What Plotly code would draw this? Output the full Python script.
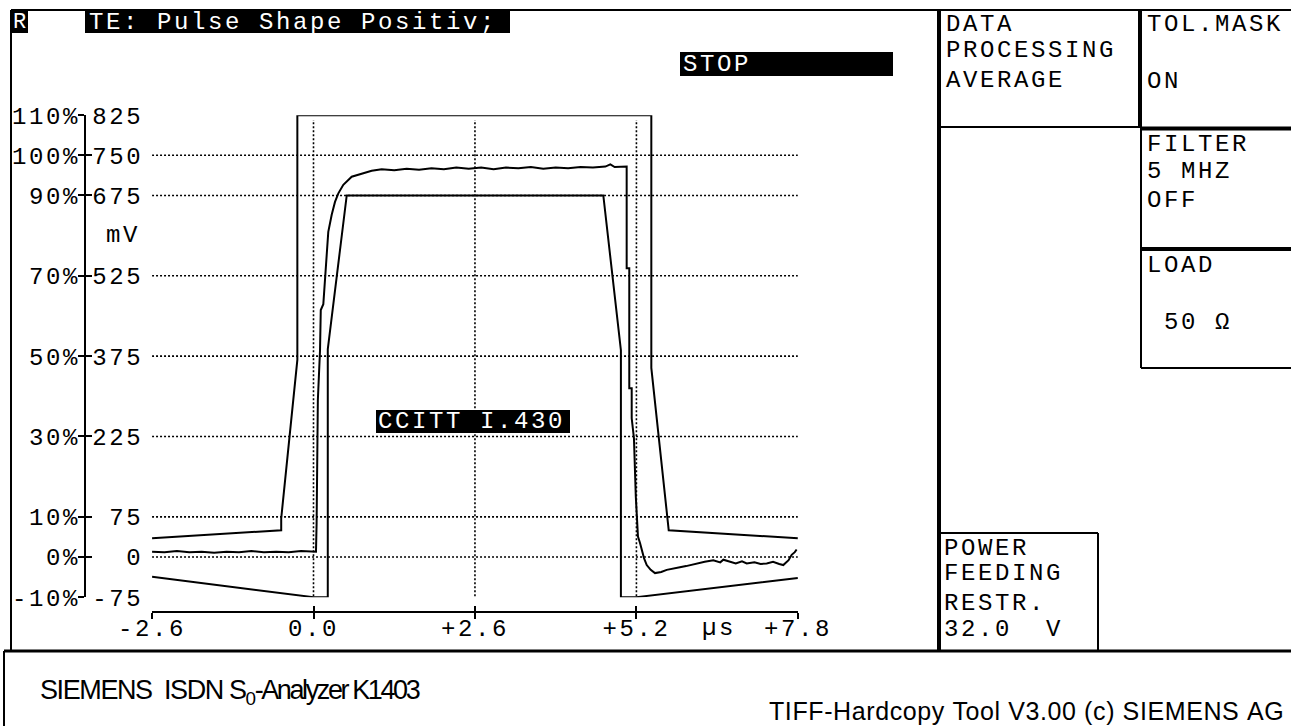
import plotly.graph_objects as go

W, H = 1291, 726
MONO = "Liberation Mono, DejaVu Sans Mono, monospace"
SANS = "Liberation Sans Narrow, Liberation Sans, Arial, sans-serif"
NB = "\u00a0"
MONO_SIZE = 24
MONO_LS = 2.6   # extra letter spacing to imitate the wide instrument font

# ---------------- data ----------------
x_tickvals = [-2.6, 0.0, 2.6, 5.2, 7.8]
x_ticktext = ["-2.6", "0.0", "+2.6", "+5.2", "+7.8"]

y_tickvals = [825, 750, 675, 525, 375, 225, 75, 0, -75]
y_mv_text = ["825", "750", "675", "525", "375", "225", NB + "75", NB + NB + "0", "-75"]
y_pct_text = ["110%", "100%", "90%", "70%", "50%", "30%", "10%", "0%", "-10%"]

grid_y = [750, 675, 525, 375, 225, 75, 0]
grid_x = [0.0, 2.6, 5.2]

# tolerance mask (CCITT I.430), µs / mV
upper_t = [-2.6, -0.52, -0.52, -0.26, -0.26, 5.44, 5.44, 5.72, 7.8]
upper_mv = [35, 50, 72, 368, 825, 825, 353, 50, 35]

lower_t = [-2.6, 0.0, 0.23, 0.23, 0.535, 4.667, 4.95, 4.95, 5.2, 7.8]
lower_mv = [-37, -75, -75, 388, 675, 675, 386, -75, -75, -39]

# measured (averaged) pulse
meas_t = [-2.6, -2.4, -2.2, -2.0, -1.8, -1.6, -1.4, -1.2, -1.0, -0.8, -0.6, -0.4, -0.2, 0.0, 0.04,
          0.05, 0.07, 0.105, 0.117, 0.158, 0.185, 0.213, 0.238, 0.293, 0.346, 0.40, 0.48, 0.615, 0.776, 0.937, 1.098,
          1.3, 1.5, 1.7, 1.9, 2.1, 2.3, 2.5, 2.7, 2.9, 3.1, 3.3, 3.5, 3.7, 3.9, 4.1, 4.3, 4.5, 4.7, 4.78, 4.85, 5.043,
          5.043, 5.085, 5.085, 5.124, 5.124, 5.16, 5.19, 5.225, 5.258, 5.285, 5.322, 5.366, 5.43, 5.499,
          5.6, 5.688, 5.8, 5.9, 6.0, 6.17, 6.3, 6.438, 6.55, 6.6, 6.707, 6.8, 6.9, 6.976, 7.1, 7.2, 7.298,
          7.4, 7.5, 7.565, 7.65, 7.7, 7.75, 7.78]
meas_mv = [10, 9, 11, 9, 10, 8, 10, 9, 11, 9, 10, 9, 11, 10, 10,
           63, 293, 386, 461, 472, 523, 564, 607, 639, 663, 679, 695, 710, 716, 721, 724,
           722, 725, 723, 726, 724, 727, 725, 727, 724, 727, 726, 728, 725, 727, 726, 728, 727, 729, 733, 728, 729,
           539, 539, 315, 315, 259, 222, 113, 38, 26, 13, -2, -15, -24, -30,
           -28, -24, -22, -19, -17, -12, -9, -6, -10, -5, -9, -12, -8, -12, -10, -13, -12,
           -9, -13, -15, -6, 4, 9, 14]


def wide(s, ls=MONO_LS):
    return '<span style="letter-spacing:%spx">%s</span>' % (ls, s)


# ---------------- geometry helpers (pixels -> paper) ----------------
def PX(x):
    return x / W


def PY(y):
    return 1 - y / H


X0PIX, XSCALE = 313.5, 62.1       # px of 0 µs, px per µs
Y0PIX, YSCALE = 557.0, 0.5356     # px of 0 mV, px per mV
x_dom = [PX(X0PIX - 2.6 * XSCALE), PX(X0PIX + 7.8 * XSCALE)]
y_dom = [PY(Y0PIX + 75 * YSCALE), PY(Y0PIX - 825 * YSCALE)]
XAXIS_Y = PY(612)
YAXIS_X = PX(85)

fig = go.Figure()

dot = dict(color="black", width=1.6, dash="2px,2px")
for gy in grid_y:
    fig.add_trace(go.Scatter(x=[-2.6, 7.8], y=[gy, gy], mode="lines", line=dot,
                             xaxis="x2", yaxis="y", cliponaxis=False, hoverinfo="skip"))
for gx in grid_x:
    fig.add_trace(go.Scatter(x=[gx, gx], y=[-103, 816], mode="lines", line=dot,
                             xaxis="x", yaxis="y2", cliponaxis=False, hoverinfo="skip"))

solid = dict(color="black", width=2)
fig.add_trace(go.Scatter(x=upper_t, y=upper_mv, mode="lines", line=solid, cliponaxis=False, name="upper mask"))
fig.add_trace(go.Scatter(x=lower_t, y=lower_mv, mode="lines", line=solid, cliponaxis=False, name="lower mask"))
fig.add_trace(go.Scatter(x=meas_t, y=meas_mv, mode="lines", line=solid, cliponaxis=False, name="pulse"))

tickfont = dict(family=MONO, size=MONO_SIZE, color="black")
common = dict(showgrid=False, zeroline=False, fixedrange=True, automargin=False)

fig.update_layout(
    width=W, height=H,
    margin=dict(l=0, r=0, t=0, b=0, pad=0, autoexpand=False),
    paper_bgcolor="white", plot_bgcolor="rgba(0,0,0,0)",
    showlegend=False, hovermode=False,
    xaxis=dict(domain=x_dom, range=[-2.6, 7.8], anchor="free", position=XAXIS_Y,
               showline=True, linecolor="black", linewidth=2,
               tickmode="array", tickvals=x_tickvals, ticktext=[wide(t) for t in x_ticktext],
               ticks="outside", ticklen=6, tickwidth=2, tickcolor="black",
               ticklabelstandoff=-12,
               tickfont=tickfont, **common),
    xaxis2=dict(overlaying="x", range=[-2.6, 7.8], anchor="free", position=XAXIS_Y,
                showline=False, tickmode="array", tickvals=x_tickvals,
                ticks="inside", ticklen=6, tickwidth=2, tickcolor="black",
                showticklabels=False, **common),
    yaxis=dict(domain=y_dom, range=[-75, 825], anchor="free", position=YAXIS_X, side="left",
               showline=True, linecolor="black", linewidth=2,
               tickmode="array", tickvals=y_tickvals, ticktext=[wide(t) for t in y_mv_text],
               ticks="outside", ticklen=6, tickwidth=2, tickcolor="black",
               ticklabelposition="inside", ticklabeloverflow="allow", ticklabelstandoff=8,
               tickfont=tickfont, **common),
    yaxis2=dict(overlaying="y", range=[-75, 825], anchor="free", position=YAXIS_X, side="left",
                showline=False, tickmode="array", tickvals=y_tickvals,
                ticktext=[wide(t) for t in y_pct_text],
                ticks="inside", ticklen=6, tickwidth=2, tickcolor="black",
                ticklabelposition="outside", ticklabeloverflow="allow", ticklabelstandoff=5,
                tickfont=tickfont, **common),
)

# ---------------- frame / panel lines ----------------
shapes = []


def hline(y, x0, x1, w=2):
    shapes.append(dict(type="line", xref="paper", yref="paper", x0=PX(x0), x1=PX(x1),
                       y0=PY(y), y1=PY(y), line=dict(color="black", width=w)))


def vline(x, y0, y1, w=2):
    shapes.append(dict(type="line", xref="paper", yref="paper", x0=PX(x), x1=PX(x),
                       y0=PY(y0), y1=PY(y1), line=dict(color="black", width=w)))


def box(x0, y0, x1, y1):
    shapes.append(dict(type="rect", xref="paper", yref="paper", x0=PX(x0), x1=PX(x1),
                       y0=PY(y0), y1=PY(y1), fillcolor="black", line=dict(width=0), layer="above"))


hline(10, 11, W, 2)
vline(11, 10, 651, 2)
hline(651, 4, W, 3)
vline(4, 651, H, 2)
vline(939, 10, 651, 4)
vline(1140, 10, 127, 4)
vline(1141, 127, 368, 2)
hline(127, 939, 1140, 2)
hline(128.5, 1140, W, 4)
hline(249, 1140, W, 4)
hline(368, 1141, W, 2)
hline(533, 939, 1098, 2)
vline(1098, 533, 651, 2)

box(11, 11, 28, 33)
box(85, 11, 510, 33)
box(680, 52, 893, 76)
box(376, 410, 570, 433)

fig.update_layout(shapes=shapes)

# ---------------- texts ----------------
ann = []


def txt(x, y, s, color="black", anchor="left", size=MONO_SIZE, family=MONO, ls=MONO_LS):
    ann.append(dict(xref="paper", yref="paper", x=PX(x), y=PY(y), text=wide(s, ls), showarrow=False,
                    xanchor=anchor, yanchor="middle",
                    font=dict(family=family, size=size, color=color)))


txt(19.5, 22.5, "R", color="white", anchor="center", size=22, ls=0)
txt(87, 22.5, "TE:" + NB + "Pulse" + NB + "Shape" + NB + "Positiv;", color="white")
txt(681, 64, "STOP", color="white")
txt(376, 421.5, "CCITT" + NB + "I.430", color="white")

txt(142, 235, "mV", anchor="right")
txt(719, 628, "µs", anchor="center")

txt(944, 24.5, "DATA")
txt(944, 50, "PROCESSING")
txt(944, 80, "AVERAGE")
txt(1145, 24.5, "TOL.MASK")
txt(1145, 81.5, "ON")
txt(1145, 144.5, "FILTER")
txt(1145, 171.5, "5" + NB + "MHZ")
txt(1145, 200.5, "OFF")
txt(1145, 265.5, "LOAD")
txt(1145, 322.5, NB + "50" + NB + "Ω")
txt(942, 548.5, "POWER")
txt(942, 573.5, "FEEDING")
txt(942, 603.5, "RESTR.")
txt(942, 629.5, "32.0" + NB + NB + "V")

siemens = ("SIEMENS" + NB + NB + "ISDN" + NB + "S<sub>0</sub>"
           + '<span style="letter-spacing:-2.4px">-Analyzer' + NB + "K1403</span>")
txt(38, 692, siemens, size=27, family=SANS, ls=-1.4)
txt(767, 711, "TIFF-Hardcopy" + NB + "Tool" + NB + "V3.00" + NB + "(c)" + NB + "SIEMENS" + NB + "AG",
    size=25, family=SANS, ls=0.6)

fig.update_layout(annotations=ann)

fig.write_html("out.html",
               config={"displayModeBar": False, "staticPlot": True},
               post_script="document.body.style.margin='0';document.body.style.overflow='hidden';")
